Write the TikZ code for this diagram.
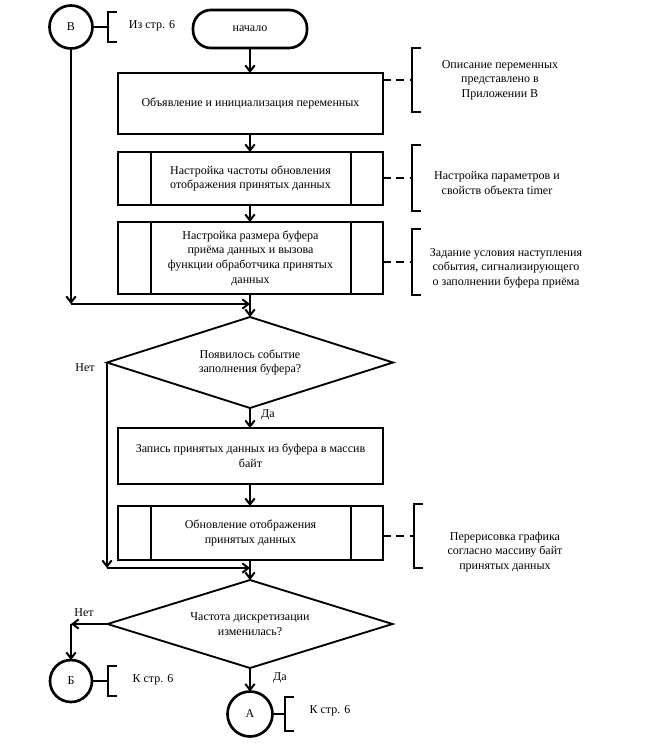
\documentclass[tikz,border=0pt]{standalone}
\usepackage{fontspec}
\setmainfont{Liberation Serif}
\usetikzlibrary{shapes.geometric,arrows.meta,calc}
\begin{document}
\begin{tikzpicture}[x=0.75pt,y=-0.75pt,
  font=\fontsize{9}{11}\selectfont,
  proc/.style={draw,line width=2pt,minimum width=198.75pt,inner sep=0pt,outer sep=0pt,align=center},
  term/.style={draw,line width=2pt,rounded corners=13.5pt,minimum width=85.5pt,minimum height=28.5pt,inner sep=0pt,outer sep=0pt},
  dec/.style={draw,diamond,line width=1.4pt,aspect=3.14,inner sep=0pt,outer sep=0pt,align=center},
  conn/.style={draw,circle,line width=2pt,inner sep=0pt,outer sep=0pt},
  flow/.style={line width=1.5pt,-{Straight Barb[length=4.5pt,width=7pt]}},
  brk/.style={line width=0.8pt},
  dsh/.style={line width=1.3pt,dash pattern=on 6pt off 4pt},
  note/.style={align=center,inner sep=0pt}
]
\useasboundingbox (0,0) rectangle (646,751);
\fill[white] (0,0) rectangle (646,751);

% main nodes
\node[term] (t) at (250,29) {начало};
\node[proc,minimum height=45.75pt] (b1) at (250.5,103.5) {Объявление и инициализация переменных};
\node[proc,minimum height=39.75pt] (b2) at (250.5,178.5) {Настройка частоты обновления\\отображения принятых данных};
\node[proc,minimum height=54pt] (b3) at (250.5,258) {Настройка размера буфера\\приёма данных и вызова\\функции обработчика принятых\\данных};
\node[dec,minimum width=214.5pt,minimum height=68.25pt] (d1) at (250,362.5) {Появилось событие\\заполнения буфера?};
\node[proc,minimum height=42pt] (b4) at (250.5,456) {Запись принятых данных из буфера в массив\\байт};
\node[proc,minimum height=40.5pt] (b5) at (250.5,533) {Обновление отображения\\принятых данных};
\node[dec,minimum width=213.75pt,minimum height=66pt] (d2) at (250,624) {Частота дискретизации\\изменилась?};

% subroutine bars
\foreach \n in {b2,b3,b5}{
  \draw[line width=2pt] ([xshift=24.75pt]\n.north west) -- ([xshift=24.75pt]\n.south west);
  \draw[line width=2pt] ([xshift=-24pt]\n.north east) -- ([xshift=-24pt]\n.south east);
}

% connectors (circles)
\node[conn,minimum size=32.25pt] (cB) at (71,27) {В};
\node[conn,minimum size=31.5pt] (cBb) at (71,681) {Б};
\node[conn,minimum size=33.75pt] (cA) at (250,714) {А};

% flow lines
\draw[flow] (t.south) -- (t.south |- b1.north);
\draw[flow] (t.south |- b1.south) -- (t.south |- b2.north);
\draw[flow] (t.south |- b2.south) -- (t.south |- b3.north);
\draw[flow] (t.south |- b3.south) -- (d1.north);
\coordinate (j1) at (250,304);
\coordinate (c1) at (71,304);
\draw[flow] (cB.south) -- (c1);
\draw[flow] (c1) -- (j1);
\draw[flow] (d1.south) -- (d1.south |- b4.north);
\draw[flow] (d1.south |- b4.south) -- (d1.south |- b5.north);
\draw[flow] (d1.south |- b5.south) -- (d2.north);
\coordinate (j2) at (250,568);
\coordinate (c2) at (d1.west |- j2);
\draw[flow] (d1.west) -- (c2);
\draw[flow] (c2) -- (j2);
\coordinate (c3) at (cBb.north |- d2.west);
\draw[flow] (d2.west) -- (c3);
\draw[flow] (c3) -- (cBb.north);
\draw[flow] (d2.south) -- (cA.north);

% labels
\node[note] (n1) at (85,368) {Нет};
\node[note] (y1) at (268,415) {Да};
\node[note] (n2) at (84,613) {Нет};
\node[note] (y2) at (280,678) {Да};

% brackets and comments
\coordinate (kB) at (108,27);
\draw[brk] (117,12) -- (108,12) -- (108,42) -- (117,42);
\draw[line width=1.5pt] (cB.east) -- (kB);
\node[note] (tB) at (152,26) {Из стр. 6};

\coordinate (k1) at (412,80);
\draw[brk] (421,48) -- (412,48) -- (412,112) -- (421,112);
\draw[dsh] (b1.east |- k1) -- (k1);
\node[note] (t1) at (500,80) {Описание переменных\\представлено в\\Приложении В};

\coordinate (k2) at (412,178);
\draw[brk] (421,145) -- (412,145) -- (412,211) -- (421,211);
\draw[dsh] (b2.east |- k2) -- (k2);
\node[note] (t2) at (497,183) {Настройка параметров и\\свойств объекта timer};

\coordinate (k3) at (412,262);
\draw[brk] (421,229) -- (412,229) -- (412,295) -- (421,295);
\draw[dsh] (b3.east |- k3) -- (k3);
\node[note] (t3) at (506,268) {Задание условия наступления\\события, сигнализирующего\\о заполнении буфера приёма};

\coordinate (k5) at (414,536);
\draw[brk] (423,504) -- (414,504) -- (414,568) -- (423,568);
\draw[dsh] (b5.east |- k5) -- (k5);
\node[note] (t5) at (505,552) {Перерисовка графика\\согласно массиву байт\\принятых данных};

\coordinate (kBb) at (108,681);
\draw[brk] (117,666) -- (108,666) -- (108,696) -- (117,696);
\draw[line width=1.5pt] (cBb.east) -- (kBb);
\node[note] (tBb) at (153,680) {К стр. 6};

\coordinate (kA) at (285,714);
\draw[brk] (294,697) -- (285,697) -- (285,731) -- (294,731);
\draw[line width=1.5pt] (cA.east) -- (kA);
\node[note] (tA) at (330,711) {К стр. 6};
\end{tikzpicture}
\end{document}
